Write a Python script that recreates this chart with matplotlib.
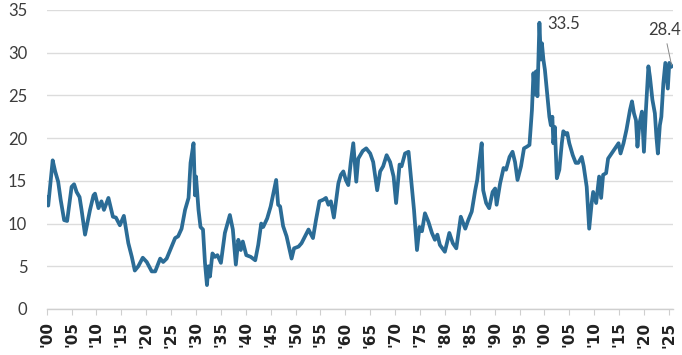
import matplotlib
matplotlib.use('Agg')
import matplotlib.pyplot as plt

# 数据：大致数值
years = [
    1900.0, 1900.3, 1901.2, 1901.7, 1902.3, 1902.8, 1903.5, 1904.1, 1905.0, 1905.5,
    1906.0, 1906.6, 1907.0, 1907.7, 1908.7, 1909.4, 1909.7, 1910.4, 1911.0, 1911.5,
    1912.4, 1913.3, 1913.9, 1914.7, 1915.5, 1916.4, 1917.1, 1917.7, 1918.4, 1919.3,
    1920.1, 1921.1, 1921.8, 1922.8, 1923.4, 1924.1, 1925.1, 1925.8, 1926.4, 1927.1,
    1927.8, 1928.5, 1928.9, 1929.5, 1929.8, 1930.0, 1930.5, 1930.9, 1931.4, 1931.8,
    1932.2, 1932.5, 1932.8, 1933.3, 1933.8, 1934.3, 1935.0, 1935.8, 1936.8, 1937.4,
    1938.0, 1938.5, 1939.0, 1939.4, 1940.1, 1941.0, 1941.9, 1942.5, 1943.1, 1943.5,
    1944.3, 1945.0, 1946.1, 1946.5, 1946.9, 1947.5, 1948.2, 1949.2, 1949.7, 1950.6,
    1951.2, 1951.9, 1952.6, 1953.5, 1954.1, 1954.8, 1955.6, 1956.1, 1956.6, 1957.1,
    1957.7, 1958.6, 1959.1, 1959.6, 1960.1, 1960.6, 1961.1, 1961.6, 1962.2, 1962.6,
    1963.5, 1964.2, 1965.0, 1965.6, 1966.4, 1967.0, 1967.6, 1968.3, 1969.0, 1969.7,
    1970.2, 1970.9, 1971.3, 1972.0, 1972.7, 1973.4, 1973.8, 1974.4, 1974.9, 1975.4,
    1976.0, 1976.7, 1977.4, 1978.0, 1978.5, 1979.0, 1980.0, 1980.9, 1981.6, 1982.3,
    1983.2, 1984.1, 1984.7, 1985.4, 1986.1, 1986.5, 1986.9, 1987.4, 1987.7, 1988.3,
    1988.9, 1989.6, 1990.1, 1990.4, 1991.1, 1991.8, 1992.3, 1993.0, 1993.6, 1994.1,
    1994.6, 1995.3, 1995.9, 1996.5, 1997.0, 1997.5, 1997.8, 1998.1, 1998.3, 1998.6,
    1999.0, 1999.3, 1999.5, 1999.8, 2000.1, 2000.5, 2001.0, 2001.3, 2001.6, 2001.8,
    2002.1, 2002.5, 2003.0, 2003.5, 2003.8, 2004.4, 2004.6, 2005.0, 2005.7, 2006.3,
    2006.8, 2007.5, 2007.9, 2008.5, 2009.0, 2009.5, 2009.8, 2010.4, 2011.0, 2011.4,
    2011.8, 2012.4, 2012.8, 2013.5, 2014.2, 2014.9, 2015.3, 2015.9, 2016.5, 2017.2,
    2017.6, 2018.0, 2018.4, 2018.7, 2019.1, 2019.6, 2020.0, 2020.4, 2020.9, 2021.2,
    2021.7, 2022.2, 2022.5, 2022.8, 2023.2, 2023.5, 2023.9, 2024.3, 2024.8, 2025.1,
    2025.6,
]
values = [
    13.1, 12.1, 17.4, 16.1, 14.9, 12.8, 10.4, 10.3, 14.3, 14.6,
    13.7, 13.1, 11.6, 8.7, 11.6, 13.3, 13.5, 11.8, 12.6, 11.6,
    13.0, 10.8, 10.7, 9.8, 10.9, 7.7, 6.1, 4.5, 5.0, 6.0,
    5.5, 4.4, 4.4, 5.9, 5.5, 5.9, 7.3, 8.3, 8.5, 9.4,
    11.6, 13.0, 17.1, 19.4, 13.3, 15.5, 11.6, 9.6, 9.3, 5.4,
    2.8, 5.0, 3.8, 6.5, 6.1, 6.3, 5.4, 8.9, 11.0, 9.3,
    5.2, 8.1, 6.9, 7.9, 6.3, 6.1, 5.7, 7.5, 10.0, 9.6,
    10.6, 12.0, 15.1, 12.2, 12.0, 9.7, 8.5, 5.9, 7.1, 7.3,
    7.7, 8.5, 9.3, 8.3, 10.4, 12.6, 12.8, 13.0, 12.2, 12.6,
    10.7, 14.7, 15.7, 16.1, 15.1, 14.5, 17.2, 19.4, 14.9, 17.6,
    18.5, 18.8, 18.2, 17.2, 13.9, 16.1, 16.7, 18.0, 17.2, 15.5,
    12.4, 16.9, 16.7, 18.2, 18.4, 14.1, 11.6, 6.9, 9.6, 9.1,
    11.2, 10.2, 8.9, 8.1, 8.7, 7.5, 6.7, 8.9, 7.7, 7.1,
    10.8, 9.4, 10.4, 11.4, 13.9, 15.1, 17.1, 19.4, 13.9, 12.4,
    11.8, 13.7, 14.1, 12.2, 14.7, 16.5, 16.3, 17.8, 18.4, 17.2,
    15.1, 16.7, 18.8, 19.0, 19.2, 23.3, 27.6, 25.1, 27.8, 24.9,
    33.5, 29.2, 31.1, 29.2, 28.0, 25.6, 22.5, 21.5, 22.5, 19.4,
    21.3, 15.3, 16.3, 19.4, 20.8, 20.4, 20.6, 19.4, 18.0, 17.1,
    17.1, 17.8, 16.7, 14.3, 9.4, 12.4, 13.7, 12.4, 15.5, 13.0,
    15.7, 15.9, 17.6, 18.2, 18.8, 19.4, 18.2, 19.4, 21.0, 23.3,
    24.3, 22.9, 22.1, 19.0, 21.7, 23.1, 18.4, 23.3, 28.4, 27.2,
    24.5, 22.9, 20.2, 18.2, 21.5, 22.5, 26.4, 28.8, 25.8, 28.8,
    28.4,
]

tick_years = list(range(1900, 2026, 5))
tick_labels = ["'" + str(y)[2:] for y in tick_years]
y_ticks = [0, 5, 10, 15, 20, 25, 30, 35]

line_color = '#2b6c96'
text_color = '#3c3c3c'

fig = plt.figure(figsize=(6.82, 3.55), dpi=100)
ax = fig.add_axes([0.0685, 0.1296, 0.918, 0.8424])

ax.plot(years, values, color=line_color, linewidth=2.7, solid_joinstyle='round', zorder=3)

ax.set_xlim(1900, 2025.8)
ax.set_ylim(0, 35)

ax.set_yticks(y_ticks)
ax.set_yticklabels([str(v) for v in y_ticks], fontsize=12, color=text_color, family='Lato')
ax.set_xticks(tick_years)
ax.set_xticklabels(tick_labels, rotation=90, fontsize=11, fontweight='bold',
                   color='#222222', family='DejaVu Sans', ha='center', va='top')

ax.tick_params(axis='y', length=0, pad=14)
ax.tick_params(axis='x', length=4, width=0.8, color='#cfcfcf', pad=5)

ax.grid(axis='y', color='#dcdcdc', linewidth=1.0, zorder=0)
for s in ['top', 'right', 'left']:
    ax.spines[s].set_visible(False)
ax.spines['bottom'].set_color('#cfcfcf')
ax.spines['bottom'].set_linewidth(1.0)

# 标注最高值与最新值
peak_i = values.index(max(values))
ax.annotate(f'{values[peak_i]:.1f}', xy=(years[peak_i], values[peak_i]),
            xytext=(6, -1), textcoords='offset points', ha='left', va='center',
            fontsize=12, color=text_color, family='Lato')
ax.annotate(f'{values[-1]:.1f}', xy=(years[-1], values[-1]),
            xytext=(-5.5, 26), textcoords='offset points', ha='center', va='center',
            fontsize=12, color=text_color, family='Lato',
            arrowprops=dict(arrowstyle='-', color='#888888', lw=0.7,
                            shrinkA=2, shrinkB=1))

fig.savefig('out.png', dpi=100)
